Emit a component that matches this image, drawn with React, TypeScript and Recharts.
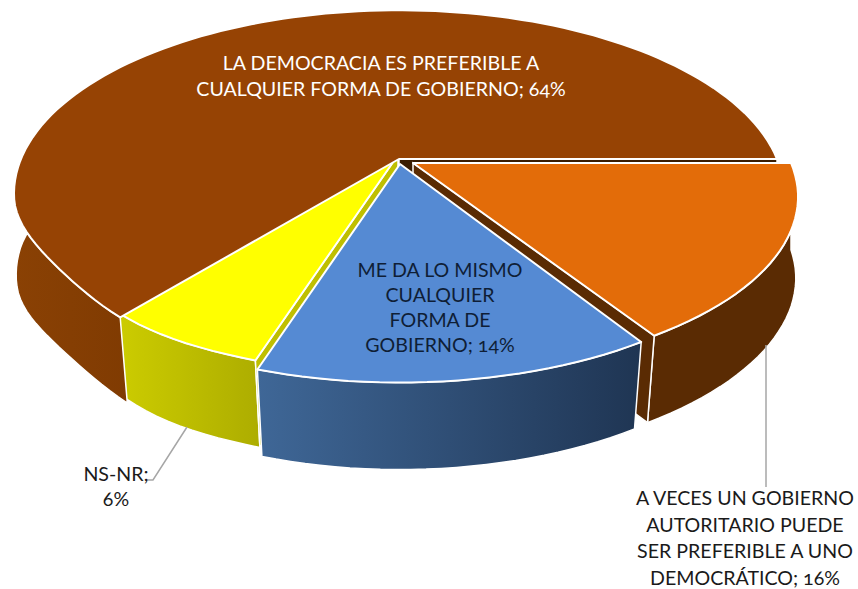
import { Pie, PieChart } from 'recharts';

const CATEGORIES = ['NS-NR', 'DEMOCRACIA', 'AUTORITARIO', 'DA LO MISMO'];
const VALUES = [6, 64, 16, 14];
const LABEL_LINES = [
  ['NS-NR;', '6%'],
  ['LA DEMOCRACIA ES PREFERIBLE A', 'CUALQUIER FORMA DE GOBIERNO; 64%'],
  ['A VECES UN GOBIERNO', 'AUTORITARIO PUEDE', 'SER PREFERIBLE A UNO', 'DEMOCRÁTICO; 16%'],
  ['ME DA LO MISMO', 'CUALQUIER', 'FORMA DE', 'GOBIERNO; 14%'],
];

const data = CATEGORIES.map((name, i) => ({ name, value: VALUES[i], lines: LABEL_LINES[i] }));

const STYLES: Record<string, any> = {
  'NS-NR': { top: '#ffff00', wall: 'url(#wallYellow)', face: '#bfbf00', faceEdge: 'start', dx: -1, dy: -4, sy: 1 },
  DEMOCRACIA: { top: '#964304', wall: 'url(#wallBrown)', face: '#3a1d02', faceEdge: 'end', dx: 0, dy: 0, sy: 1 },
  AUTORITARIO: { top: '#e36c09', wall: '#5a2b03', face: '#5a2b03', faceEdge: 'end', dx: 14, dy: 4, sy: 0.97 },
  'DA LO MISMO': { top: '#558ad3', wall: 'url(#wallBlue)', face: null, faceEdge: null, dx: 1, dy: 5, sy: 1 },
};

const LABELS: Record<string, any> = {
  'NS-NR': { x: 116, y: 481, step: 25, fill: '#1a1a1a' },
  DEMOCRACIA: { x: 381, y: 70, step: 26, fill: '#ffffff' },
  AUTORITARIO: { x: 745, y: 505, step: 26.5, fill: '#1a1a1a' },
  'DA LO MISMO': { x: 440, y: 277, step: 25, fill: '#0f1e36' },
};

const LEADERS: Record<string, string> = {
  'NS-NR': '187,427 153,480 147,480',
  AUTORITARIO: '766,345 766,487',
};

// perspective of the tilted disc
const TILT = 177 / 378;
const KEYSTONE = 0.19;
const DEPTH = 87;

function project(cx: number, cy: number, r: number, deg: number, bottom = false, sy = 1) {
  const t = (deg * Math.PI) / 180;
  const u = Math.cos(t);
  const v = Math.sin(t);
  const s = 1 / (1 - KEYSTONE * v);
  // the bottom rim is further from the eye, more so towards the front
  const shrink = bottom ? 1 - 0.033 * Math.max(v, 0) : 1;
  // the front left of the disc sits a little tighter than a plain ellipse
  const tight = deg > 118 && deg < 168 ? Math.sin((Math.PI * (deg - 118)) / 50) ** 2 : 0;
  const x = r * u * s * shrink * (1 - 0.028 * tight);
  const y = r * TILT * v * s * sy * (1 - 0.02 * tight) + (bottom ? DEPTH - 3 * tight : 0);
  return [cx + x, cy + y];
}

function arc(cx: number, cy: number, r: number, a: number, b: number, bottom: boolean, sy: number) {
  const pts = [];
  const n = Math.max(2, Math.ceil(Math.abs(b - a) / 2));
  for (let i = 0; i <= n; i++) pts.push(project(cx, cy, r, a + ((b - a) * i) / n, bottom, sy));
  return pts;
}

const toPath = (pts: number[][]) => 'M' + pts.map((p) => `${p[0].toFixed(1)} ${p[1].toFixed(1)}`).join('L') + 'Z';

function Slice(props: any) {
  const { cx, cy, outerRadius, startAngle, endAngle, name } = props;
  const st = STYLES[name];
  const ox = cx + st.dx;
  const oy = cy + st.dy;
  const a = -startAngle;
  const b = -endAngle;
  const topArc = arc(ox, oy, outerRadius, a, b, false, st.sy);
  const lowArc = arc(ox, oy, outerRadius, a, b, true, st.sy);
  const faceAngle = st.faceEdge === 'start' ? a : b;
  const edge = project(ox, oy, outerRadius, faceAngle, false, st.sy);
  const edgeLow = project(ox, oy, outerRadius, faceAngle, true, st.sy);
  return (
    <g>
      <path d={toPath([...topArc, ...lowArc.reverse()])} fill={st.wall} stroke="#ffffff" strokeWidth={1.5} />
      {st.face && (
        <path
          d={toPath([[ox, oy], edge, edgeLow, [ox, oy + DEPTH]])}
          fill={st.face}
          stroke="#ffffff"
          strokeWidth={1.5}
        />
      )}
      <path d={toPath([[ox, oy], ...topArc])} fill={st.top} stroke="#ffffff" strokeWidth={2} strokeLinejoin="round" />
    </g>
  );
}

function SliceLabel(props: any) {
  const name = props.name ?? props.payload?.name;
  const pos = LABELS[name];
  const lines: string[] = props.lines ?? props.payload?.lines;
  return (
    <g>
      {LEADERS[name] && <polyline points={LEADERS[name]} fill="none" stroke="#a6a6a6" strokeWidth={1.5} />}
      <text
        textAnchor="middle"
        fontFamily="Lato, 'Open Sans', sans-serif"
        fontSize={19.6}
        fill={pos.fill}
        style={{ fontFeatureSettings: '"onum"' }}
      >
        {lines.map((line, i) => (
          <tspan key={line} x={pos.x} y={pos.y + i * pos.step}>
            {line}
          </tspan>
        ))}
      </text>
    </g>
  );
}

export default function App() {
  return (
    <div style={{ position: 'absolute', left: 0, top: 0 }}>
      <PieChart width={858} height={589} margin={{ top: 0, right: 0, bottom: 0, left: 0 }}>
        <defs>
          <linearGradient id="wallBrown" x1="0" y1="0" x2="1" y2="0">
            <stop offset="0" stopColor="#8a4104" />
            <stop offset="0.3" stopColor="#763500" />
            <stop offset="1" stopColor="#763500" />
          </linearGradient>
          <linearGradient id="wallBlue" x1="0" y1="0" x2="1" y2="0">
            <stop offset="0" stopColor="#3f6797" />
            <stop offset="1" stopColor="#1f3553" />
          </linearGradient>
          <linearGradient id="wallYellow" x1="0" y1="0" x2="1" y2="0">
            <stop offset="0" stopColor="#cccc00" />
            <stop offset="1" stopColor="#adad00" />
          </linearGradient>
        </defs>
        <Pie
          data={data}
          dataKey="value"
          nameKey="name"
          cx={399}
          cy={159}
          innerRadius={0}
          outerRadius={378}
          startAngle={-108}
          endAngle={-468}
          shape={Slice}
          activeShape={Slice}
          inactiveShape={Slice}
          label={SliceLabel}
          labelLine={false}
          stroke="none"
          isAnimationActive={false}
        />
      </PieChart>
    </div>
  );
}
